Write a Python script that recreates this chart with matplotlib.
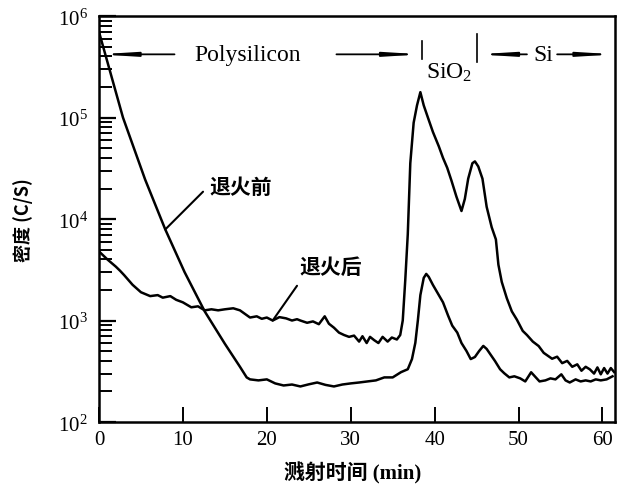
import matplotlib
matplotlib.use("Agg")
import matplotlib.pyplot as plt
from matplotlib.ticker import FixedLocator, FixedFormatter, LogLocator, NullFormatter

plt.rcParams['mathtext.fontset'] = 'custom'
plt.rcParams['mathtext.rm'] = 'Liberation Serif'
plt.rcParams['mathtext.it'] = 'Liberation Serif:italic'

# 退火前 (before annealing): sputter time (min) vs counts (C/S)
t_before = [0, 2.86, 5.5, 7.9, 10.2, 12.6, 15.0, 16.8, 17.6,
            18, 19, 20, 21, 22, 23, 24, 25, 26, 27, 28, 29, 30, 31, 32, 33, 34, 35, 36,
            36.8, 37.3, 37.7, 38.0, 38.3, 38.7, 39.0, 39.3, 39.8, 40.5, 41.0, 41.6,
            42.1, 42.7, 43.2, 43.8, 44.3, 44.8, 45.3, 45.8, 46.2, 46.7, 47.2, 47.8,
            48.3, 48.9, 49.5, 50.2, 50.8, 51.5, 52.5, 53.2, 53.8, 54.4, 55.1,
            55.6, 56.1, 56.8, 57.4, 58, 58.6, 59.2, 59.8, 60.5, 61.2]
c_before = [700000, 100000, 24500, 7900, 3000, 1230, 590, 350, 275,
            263, 257, 263, 240, 229, 234, 224, 235, 245, 232, 224, 234, 240, 245, 251, 257, 275, 275, 310,
            331, 417, 603, 1000, 1780, 2630, 2880, 2690, 2240, 1780, 1510, 1120,
            890, 760, 600, 500, 417, 437, 500, 562, 525, 457, 398, 331,
            302, 275, 282, 269, 251, 309, 251, 257, 269, 263, 295,
            257, 245, 263, 251, 257, 251, 263, 257, 263, 282]

# 退火后 (after annealing)
t_after = [0, 1, 2, 2.5, 3, 4, 5, 6.1, 7, 7.6, 8.5, 9.2, 10.0, 11, 11.8, 12.6, 13.4,
           14.2, 15, 16, 16.8, 18.0, 18.8, 19.4, 20, 20.7, 21.5, 22.3, 23.0, 23.6,
           24, 24.8, 25.5, 26.2, 26.9, 27.4, 28, 28.6, 29.2, 29.8, 30.4, 31, 31.4,
           31.9, 32.3, 32.8, 33.3, 33.8, 34.4, 34.9, 35.5, 35.9, 36.2, 36.5, 36.8,
           37.1, 37.5, 37.9, 38.3, 38.7, 39.2, 39.8, 40.5, 41.0, 41.5, 42.0, 42.6,
           43.2, 43.6, 44.0, 44.5, 44.8, 45.2, 45.7, 46.2, 46.8, 47.3, 47.6, 48.0,
           48.6, 49.2, 49.8, 50.5, 51.0, 51.7, 52.4, 53.0, 54.0, 54.6, 55.2, 55.8,
           56.4, 57.0, 57.5, 58.0, 58.5, 59.0, 59.4, 59.8, 60.2, 60.6, 61.0, 61.4]
c_after = [4800, 4000, 3400, 3100, 2800, 2250, 1900, 1740, 1780, 1680, 1740, 1600, 1510, 1350, 1380, 1260, 1290,
           1260, 1290, 1320, 1260, 1070, 1100, 1040, 1070, 1000, 1080, 1050, 1000, 1030,
           1000, 950, 980, 920, 1100, 930, 850, 760, 720, 690, 710, 620, 700,
           600, 690, 640, 600, 690, 620, 680, 650, 720, 1000, 2500, 7100,
           35500, 89000, 132000, 178000, 132000, 100000, 72000, 52000, 40000, 32000, 24000, 16600,
           12000, 15800, 25000, 35500, 37000, 33000, 25000, 13200, 8300, 6300, 3550, 2400,
           1660, 1230, 1020, 790, 720, 620, 560, 480, 420, 440, 380, 400,
           350, 370, 320, 350, 330, 300, 345, 295, 340, 300, 340, 310]

x_ticks = [0, 10, 20, 30, 40, 50, 60]
y_ticks = [1e2, 1e3, 1e4, 1e5, 1e6]
y_tick_labels = [r'$10^{2}$', r'$10^{3}$', r'$10^{4}$', r'$10^{5}$', r'$10^{6}$']

# layer boundaries (min) and the level of the layer arrows (C/S)
layer_bounds = [38.45, 45.1]
layer_y = 4.2e5

cjk = ['Noto Sans CJK SC', 'DejaVu Sans']
serif = ['Liberation Serif', 'Noto Sans CJK SC']

fig = plt.figure(figsize=(6.21, 4.89), dpi=100)
ax = fig.add_axes([0.1594, 0.135, 0.831, 0.830])

ax.plot(t_before, c_before, color='black', lw=1.8)
ax.plot(t_after, c_after, color='black', lw=1.8)

ax.set_yscale('log')
ax.set_xlim(0, 61.5)
ax.set_ylim(1e2, 1e6)

ax.xaxis.set_major_locator(FixedLocator(x_ticks))
ax.yaxis.set_major_locator(FixedLocator(y_ticks))
ax.yaxis.set_major_formatter(FixedFormatter(y_tick_labels))
ax.yaxis.set_minor_locator(LogLocator(base=10, subs=range(2, 10)))
ax.yaxis.set_minor_formatter(NullFormatter())
ax.tick_params(axis='y', which='major', direction='in', length=12, width=1.6, labelsize=15, pad=8)
ax.tick_params(axis='y', which='minor', direction='in', length=9, width=1.4)
ax.tick_params(axis='x', which='major', direction='in', length=11, width=1.4, labelsize=15, pad=6)
for lab in ax.get_xticklabels():
    lab.set_family('Liberation Serif')
for sp in ax.spines.values():
    sp.set_linewidth(1.8)

# layer markers along the top
arrow = dict(arrowstyle='-|>,head_length=1.3,head_width=0.08', color='black', lw=1.3,
             shrinkA=0, shrinkB=0, mutation_scale=15)
ax.annotate('', xy=(0, layer_y), xytext=(9.0, layer_y), arrowprops=arrow)
ax.annotate('', xy=(layer_bounds[0], layer_y), xytext=(28.3, layer_y), arrowprops=arrow)
ax.annotate('', xy=(layer_bounds[1], layer_y), xytext=(51.0, layer_y), arrowprops=arrow)
ax.annotate('', xy=(61.5, layer_y), xytext=(54.6, layer_y), arrowprops=arrow)
ax.axvline(layer_bounds[0], ymin=0.894, ymax=0.938, color='black', lw=1.2)
ax.axvline(layer_bounds[1], ymin=0.887, ymax=0.956, color='black', lw=1.2)

ax.text(17.7, layer_y, 'Polysilicon', family='Liberation Serif', fontsize=17,
        ha='center', va='center')
ax.text(52.9, layer_y, 'Si', family='Liberation Serif', fontsize=17,
        ha='center', va='center')
ax.text(41.7, 2.9e5, r'$\mathrm{SiO_2}$', fontsize=17, ha='center', va='center')

# curve labels
ax.annotate('', xy=(7.9, 7900), xytext=(12.4, 18600),
            arrowprops=dict(arrowstyle='-', color='black', lw=1.5, shrinkA=0, shrinkB=0))
ax.text(13.2, 21000, '退火前', family=cjk, fontsize=15, fontweight='bold',
        ha='left', va='center')
ax.annotate('', xy=(20.7, 1000), xytext=(23.6, 2200),
            arrowprops=dict(arrowstyle='-', color='black', lw=1.5, shrinkA=0, shrinkB=0))
ax.text(23.9, 3400, '退火后', family=cjk, fontsize=15, fontweight='bold',
        ha='left', va='center')

fig.text(23 / 621, 1 - 220 / 489, '密度 (C/S)', family=cjk, fontsize=13, fontweight='bold',
         rotation=90, ha='center', va='center')
fig.text(353 / 621, 1 - 473 / 489, '溅射时间 (min)', family=serif, fontsize=15, fontweight='bold',
         ha='center', va='center')

fig.savefig('out.png', dpi=100)
